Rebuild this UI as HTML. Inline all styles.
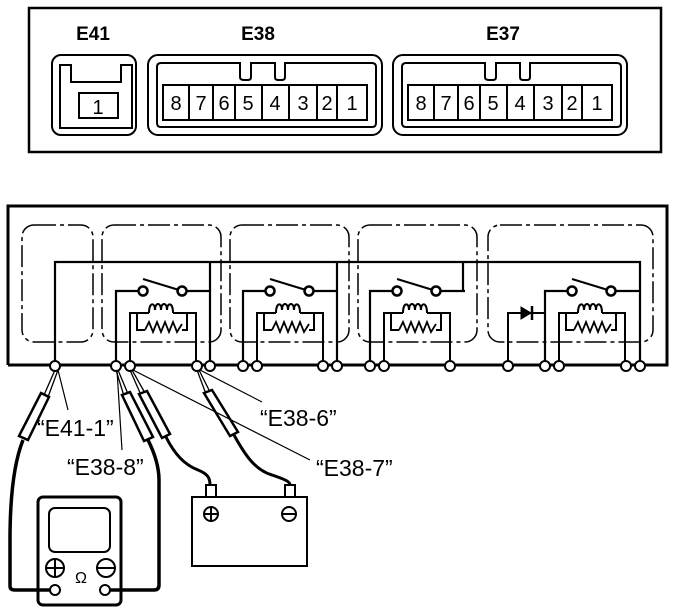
<!DOCTYPE html>
<html><head><meta charset="utf-8"><style>body{margin:0;background:#fff}svg{display:block}text{font-family:"Liberation Sans",sans-serif}</style></head><body>
<svg width="677" height="614" viewBox="0 0 677 614" xmlns="http://www.w3.org/2000/svg" fill="none" stroke="#000">
<defs>
<g id="pins" stroke-width="2">
<rect x="0" y="0" width="204" height="35"/>
<path d="M26 0V35M50 0V35M72 0V35M99 0V35M126 0V35M154 0V35M174 0V35"/>
</g>
<g id="conn" stroke-width="2">
<rect x="0" y="0" width="234" height="80" rx="10"/>
<path d="M13 8H92V22Q92 25 96 25H100Q103 25 103 22V8H127V22Q127 25 130 25H134Q137 25 137 22V8H224Q228 8 228 12V68Q228 72 224 72H13Q9 72 9 68V12Q9 8 13 8Z"/>
</g>
<g id="relay">
<path d="M0 103V29H22M70 29H95" stroke-width="2.2"/>
<circle cx="27" cy="29" r="4.5" stroke-width="2.5" fill="#fff"/>
<circle cx="66" cy="29" r="4.5" stroke-width="2.5" fill="#fff"/>
<path d="M27 17L63 28" stroke-width="2"/>
<path d="M14 103V51H33M57 51H80V103M21 51V68H29M66 68H71V51" stroke-width="2"/>
<path d="M29 68L33 60L37 70L41 60L45 70L49 60L53 70L57 60L61 70L66 62" stroke-width="1.8"/>
<path d="M33 51C33 40 39 40 39 48C39 40 45 40 45 48C45 40 51 40 51 48C51 40 57 40 57 51" stroke-width="2"/>
</g>
</defs>
<rect x="29" y="8" width="632" height="144" stroke-width="2.5"/>
<text x="93" y="40" font-size="19" font-weight="bold" fill="#000" stroke="none" text-anchor="middle">E41</text>
<text x="258" y="40" font-size="19" font-weight="bold" fill="#000" stroke="none" text-anchor="middle">E38</text>
<text x="503" y="40" font-size="19" font-weight="bold" fill="#000" stroke="none" text-anchor="middle">E37</text>
<rect x="52" y="55" width="84" height="80" rx="9" stroke-width="2"/>
<path d="M60 65H71V82H121V65H132V128H60Z" stroke-width="2"/>
<rect x="79" y="93" width="39" height="25" stroke-width="2"/>
<g transform="translate(148,55)"><use href="#conn"/></g>
<g transform="translate(393,55)"><use href="#conn"/></g>
<g transform="translate(163,85)"><use href="#pins"/></g>
<g transform="translate(408,85)"><use href="#pins"/></g>
<g fill="#000" stroke="none" font-size="20" text-anchor="middle">
<text x="98" y="114">1</text>
<text x="176" y="110">8</text><text x="201" y="110">7</text><text x="224" y="110">6</text><text x="248" y="110">5</text><text x="275" y="110">4</text><text x="303" y="110">3</text><text x="327" y="110">2</text><text x="352" y="110">1</text>
<text x="421" y="110">8</text><text x="446" y="110">7</text><text x="469" y="110">6</text><text x="493" y="110">5</text><text x="520" y="110">4</text><text x="548" y="110">3</text><text x="572" y="110">2</text><text x="597" y="110">1</text>
</g>
<path d="M8 365V206H667V365H8" stroke-width="3"/>
<g stroke-width="1.5" stroke-dasharray="22,4,4,4">
<rect x="22" y="225" width="71" height="117" rx="12"/>
<rect x="102" y="225" width="119" height="117" rx="12"/>
<rect x="230" y="225" width="119" height="117" rx="12"/>
<rect x="358" y="225" width="119" height="117" rx="12"/>
<rect x="488" y="225" width="165" height="117" rx="12"/>
</g>
<path d="M55 365V262H640V365M210 262V365M337 262V365M463 262V291" stroke-width="2.2"/>
<g transform="translate(116,262)"><use href="#relay"/></g>
<g transform="translate(243,262)"><use href="#relay"/></g>
<g transform="translate(370,262)"><use href="#relay"/></g>
<g transform="translate(545,262)"><use href="#relay"/></g>
<path d="M508 365V313H546" stroke-width="2"/>
<path d="M521 307L531 313L521 319Z" fill="#000" stroke-width="1"/><path d="M532 306V320" stroke-width="2.5"/>
<g stroke-width="2" fill="#fff">
<circle cx="55" cy="366" r="5"/><circle cx="116" cy="366" r="5"/><circle cx="130" cy="366" r="5"/><circle cx="197" cy="366" r="5"/><circle cx="210" cy="366" r="5"/><circle cx="243" cy="366" r="5"/><circle cx="257" cy="366" r="5"/><circle cx="323" cy="366" r="5"/><circle cx="337" cy="366" r="5"/><circle cx="370" cy="366" r="5"/><circle cx="384" cy="366" r="5"/><circle cx="450" cy="366" r="5"/><circle cx="508" cy="366" r="5"/><circle cx="545" cy="366" r="5"/><circle cx="559" cy="366" r="5"/><circle cx="626" cy="366" r="5"/><circle cx="640" cy="366" r="5"/>
</g>
<path d="M55 370L44 395M58 370L48 397M116 370L124 396M118 370L128 394M130 370L141 395M132 370L145 393M197 370L206 394M199 370L210 392" stroke-width="1.3"/>
<g stroke-width="2.5" fill="#fff">
<path d="M41 393L49 397L28 440L19 436Z"/>
<path d="M122 395L130 392L153 437L144 441Z"/>
<path d="M139 394L147 391L170 434L162 438Z"/>
<path d="M204 393L212 390L238 432L230 436Z"/>
</g>
<path d="M58 370L68 410M117 370L122 450M200 370L262 402M133 370L310 460" stroke-width="1.2"/>
<path d="M23 440C15 460 10 490 10 540V586Q10 590 15 590H50" stroke-width="3.5"/>
<path d="M110 590H154Q159 590 159 585V480C159 465 153 450 148 440" stroke-width="3.5"/>
<path d="M166 437C175 455 185 465 198 470C208 474 210 478 210 485" stroke-width="3"/>
<path d="M234 435C245 455 255 470 272 475C287 480 290 482 290 485" stroke-width="3"/>
<rect x="38" y="497" width="83" height="108" rx="5" stroke-width="3"/>
<rect x="49" y="508" width="61" height="44" rx="6" stroke-width="2"/>
<circle cx="55" cy="568" r="9" stroke-width="2"/><path d="M46 568H64M55 559V577" stroke-width="2"/>
<circle cx="106" cy="568" r="9" stroke-width="2"/><path d="M97 568H115" stroke-width="2"/>
<text x="81" y="583" font-size="16" fill="#000" stroke="none" text-anchor="middle">Ω</text>
<circle cx="55" cy="590" r="5" stroke-width="2" fill="#fff"/><circle cx="105" cy="590" r="5" stroke-width="2" fill="#fff"/>
<rect x="192" y="497" width="115" height="69" stroke-width="2"/>
<rect x="206" y="485" width="10" height="12" stroke-width="2"/><rect x="285" y="485" width="10" height="12" stroke-width="2"/>
<circle cx="211" cy="514" r="7" stroke-width="2"/><path d="M205 514H217M211 508V520" stroke-width="2"/>
<circle cx="289" cy="514" r="7" stroke-width="2"/><path d="M283 514H295" stroke-width="2"/>
<g fill="#000" stroke="none" font-size="23">
<text x="37" y="436">“E41-1”</text>
<text x="67" y="475">“E38-8”</text>
<text x="260" y="426">“E38-6”</text>
<text x="316" y="476">“E38-7”</text>
</g>
</svg>
</body></html>
